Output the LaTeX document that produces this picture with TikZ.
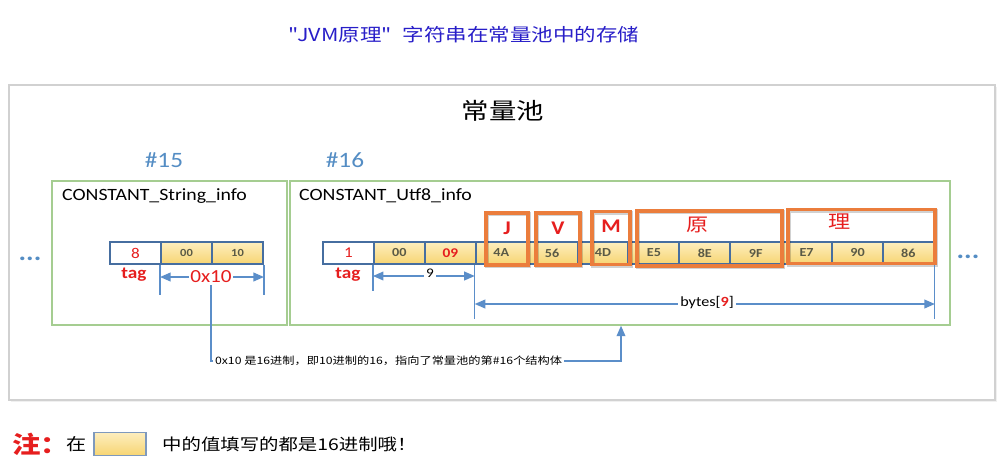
\documentclass[tikz,border=0pt]{standalone}
\usepackage{fontspec}
\setmainfont{Noto Sans CJK SC}[FakeStretch=1.2]
\newfontfamily\lat{Carlito}[FakeStretch=1.15]
\usetikzlibrary{arrows.meta,shadows}
\definecolor{titleblue}{RGB}{40,30,200}
\definecolor{numblue}{RGB}{84,141,196}
\definecolor{cellborder}{RGB}{70,110,160}
\definecolor{ytop}{RGB}{253,238,190}
\definecolor{ybot}{RGB}{247,213,115}
\definecolor{orng}{RGB}{235,125,60}
\definecolor{redtxt}{RGB}{230,30,30}
\definecolor{arrblue}{RGB}{91,142,201}
\definecolor{grn}{RGB}{165,205,145}
\definecolor{celltxt}{RGB}{90,90,70}
\tikzset{
  cell/.style={draw=cellborder, line width=1.1pt, minimum width=1.02cm, minimum height=0.44cm, inner sep=0pt,
    font=\lat\fontsize{7}{7}\selectfont\bfseries, text=celltxt},
  ycell/.style={cell, top color=ytop, bottom color=ybot},
  wcell/.style={cell, fill=white, text=redtxt, font=\lat\fontsize{8.5}{8}\selectfont},
  obox/.style={draw=orng, line width=1.9pt, inner sep=0pt,
    preaction={draw=black, draw opacity=0.18, line width=2.2pt, transform canvas={shift={(0.8pt,-0.8pt)}}}},
  olabel/.style={text=redtxt, font=\lat\fontsize{11}{12}\selectfont\bfseries},
  olabelc/.style={text=redtxt, font=\fontsize{10.5}{12}\selectfont},
  gbox/.style={draw=grn, line width=0.8pt},
  tickline/.style={draw=arrblue, line width=0.7pt},
  dimarrow/.style={draw=arrblue, line width=0.8pt, {Triangle[width=5pt,length=6pt]}-{Triangle[width=5pt,length=6pt]}},
  conn/.style={draw=arrblue, line width=0.8pt, -{Triangle[width=5pt,length=6pt]}},
  redlbl/.style={text=redtxt, font=\lat\fontsize{9.5}{10}\selectfont\bfseries},
  dots/.style={text=numblue, font=\lat\fontsize{14}{14}\selectfont\bfseries},
}
\begin{document}
\begin{tikzpicture}[x=0.02cm, y=-0.02cm]
\useasboundingbox (0,0) rectangle (1000,467);
% title
\node[text=titleblue, font=\fontsize{10.2}{12}\selectfont] (title) at (464,35) {\textquotedbl JVM原理\textquotedbl\hspace{0.7em}字符串在常量池中的存储};
% outer box
\node[draw=black!18, line width=0.8pt, fill=white, minimum width=19.72cm, minimum height=6.3cm, inner sep=0pt,
  drop shadow={opacity=0.12, shadow xshift=1pt, shadow yshift=-1pt}] (outer) at (502,242.5) {};
\node[font=\fontsize{13}{15}\selectfont] (pool) at (503,111) {常量池};
\node[text=numblue, font=\lat\fontsize{12.5}{14}\selectfont] (n15) at (164,160) {\#15};
\node[text=numblue, font=\lat\fontsize{12.5}{14}\selectfont] (n16) at (345,160) {\#16};
% green boxes
\node[gbox, minimum width=4.7cm, minimum height=2.88cm, inner sep=0pt] (lbox) at (169.5,253) {};
\node[gbox, minimum width=13.2cm, minimum height=2.88cm, inner sep=0pt] (rbox) at (620,253) {};
\node[anchor=west, font=\lat\fontsize{9.8}{11}\selectfont] (lname) at (56,196) {CONSTANT\_String\_info};
\node[anchor=west, font=\lat\fontsize{9.8}{11}\selectfont] (rname) at (293,196) {CONSTANT\_Utf8\_info};
% left cells
\node[wcell] (l1) at (135.5,253) {8};
\node[ycell, font=\lat\fontsize{6.2}{7}\selectfont\bfseries] (l2) at (186.5,253) {00};
\node[ycell, font=\lat\fontsize{6.2}{7}\selectfont\bfseries] (l3) at (237.5,253) {10};
% right cells
\node[wcell] (r1) at (348.5,253) {1};
\node[ycell] (r2) at (399.4,253) {00};
\node[ycell, text=redtxt, font=\lat\fontsize{7.6}{8}\selectfont\bfseries] (r3) at (450.3,253) {09};
\node[ycell] (r4) at (501.2,253) {4A};
\node[ycell] (r5) at (552.1,253) {56};
\node[ycell] (r6) at (603.0,253) {4D};
\node[ycell] (r7) at (653.9,253) {E5};
\node[ycell] (r8) at (704.8,253) {8E};
\node[ycell] (r9) at (755.7,253) {9F};
\node[ycell] (r10) at (806.6,253) {E7};
\node[ycell] (r11) at (857.5,253) {90};
\node[ycell] (r12) at (908.4,253) {86};
% orange boxes
\node[obox, minimum width=0.84cm, minimum height=1.04cm] (oJ) at (507,239) {};
\node[obox, minimum width=0.88cm, minimum height=1.04cm] (oV) at (558,239) {};
\node[obox, minimum width=0.76cm, minimum height=1.06cm] (oM) at (611,238) {};
\node[obox, minimum width=2.9cm, minimum height=1.1cm] (oY) at (709.5,238.5) {};
\node[obox, minimum width=2.94cm, minimum height=1.08cm] (oL) at (861.5,236.5) {};
\node[olabel] (tJ) at (507,228) {J};
\node[olabel] (tV) at (558,228) {V};
\node[olabel] (tM) at (611,226) {M};
\node[olabelc] (tY) at (698,225) {原};
\node[olabelc] (tL) at (840,222) {理};
% left dims
\node[redlbl] (tag1) at (134,275) {tag};
\draw[tickline] (l2.south west) -- ++(0,30) coordinate (lt1);
\draw[tickline] (l3.south east) -- ++(0,30) coordinate (lt2);
\draw[dimarrow] (l2.south west |- 0,277) -- (l3.south east |- 0,277);
\node[redlbl, fill=white, inner sep=1pt, font=\lat\fontsize{10.5}{11}\selectfont] (hex) at (211,277) {0x10};
% right dims
\node[redlbl] (tag2) at (348,275) {tag};
\draw[tickline] (r2.south west) -- ++(0,26) coordinate (rt1);
\draw[tickline] (r4.south west) -- ++(0,54) coordinate (rt2);
\draw[tickline] (r12.south east) -- ++(0,54) coordinate (rt3);
\draw[dimarrow] (r2.south west |- 0,276) -- (r4.south west |- 0,276);
\node[fill=white, inner sep=1pt, font=\lat\fontsize{7.5}{8}\selectfont] (nine) at (430,273) {9};
\draw[dimarrow] (r4.south west |- 0,304) -- (r12.south east |- 0,304);
\node[fill=white, inner sep=1pt, font=\lat\fontsize{8}{9}\selectfont] (bytes) at (707,303) {bytes[{\color{redtxt}\bfseries 9}]};
% connector
\coordinate (c1) at (211,361);
\coordinate (c2) at (621,361);
\draw[conn] (hex.south) -- (c1) -- (c2) -- (c2 |- rbox.south);
\node[anchor=west, fill=white, inner sep=1pt, font=\fontsize{5.8}{7}\selectfont] (note) at (213,361) {0x10 是16进制，即10进制的16，指向了常量池的第\#16个结构体};
% dots
\node[dots] (dl) at (30,259) {...};
\node[dots] (dr) at (968,257) {...};
% bottom note
\node[text=redtxt, font=\fontsize{13.5}{15}\selectfont\bfseries, anchor=west] (zhu) at (6,444) {注：};
\node[font=\fontsize{9.5}{12}\selectfont, anchor=west] (zai) at (60,444) {在};
\node[draw=cellborder!70, line width=0.8pt, top color=ytop, bottom color=ybot, minimum width=1.04cm, minimum height=0.46cm, inner sep=0pt] (ybox) at (120,444) {};
\node[font=\fontsize{9.2}{12}\selectfont, anchor=west] (rest) at (156,444) {中的值填写的都是16进制哦！};
\end{tikzpicture}
\end{document}
